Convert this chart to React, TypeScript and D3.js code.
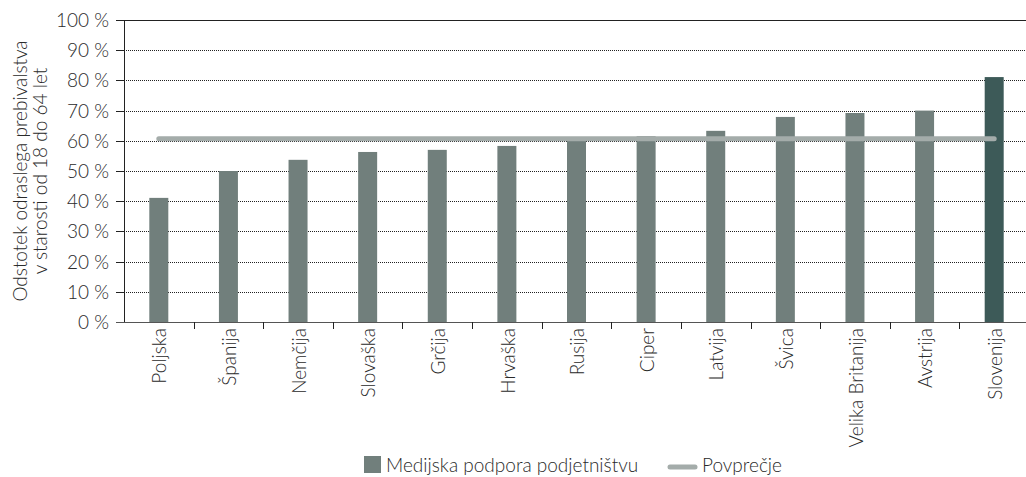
import React, { useEffect, useRef } from 'react';
import * as d3 from 'd3';

// Chart data
const countries = [
    'Poljska', 'Španija', 'Nemčija', 'Slovaška', 'Grčija', 'Hrvaška', 'Rusija',
    'Ciper', 'Latvija', 'Švica', 'Velika Britanija', 'Avstrija', 'Slovenija'
];
const supportValues = [41.1, 50.0, 53.7, 56.3, 57.0, 58.3, 60.4, 61.5, 63.3, 67.9, 69.2, 70.0, 81.1];
const averageValue = 60.7;
const yTicks = [0, 10, 20, 30, 40, 50, 60, 70, 80, 90, 100];
const seriesNames = ['Medijska podpora podjetništvu', 'Povprečje'];
const highlighted = 'Slovenija';

const FONT = 'Lato, "Open Sans", sans-serif';
const FS = '19px';
const TXT = '#2a2a2a';

const App: React.FC = () => {
    const chartRef = useRef<SVGSVGElement>(null);

    useEffect(() => {
        if (!chartRef.current) return;
        const svg = d3.select(chartRef.current);
        svg.selectAll('*').remove();

        const width = 1026;
        const height = 477;
        const margin = { top: 20, right: -3, bottom: 155, left: 124 };
        const innerWidth = width - margin.left - margin.right;
        const innerHeight = height - margin.top - margin.bottom;

        svg.attr('width', width).attr('height', height)
            .attr('viewBox', `0 0 ${width} ${height}`)
            .style('display', 'block')
            .style('font-family', FONT);

        const g = svg.append('g')
            .attr('transform', `translate(${margin.left}, ${margin.top})`);

        const xScale = d3.scaleBand()
            .domain(countries)
            .range([0, innerWidth])
            .paddingInner(0)
            .paddingOuter(0);

        const yScale = d3.scaleLinear()
            .domain([0, 100])
            .range([innerHeight, 0]);

        const barWidth = 19;

        // Gridlines
        g.selectAll('.grid')
            .data(yTicks.filter(t => t > 0))
            .enter()
            .append('line')
            .attr('x1', 0)
            .attr('x2', innerWidth + 10)
            .attr('y1', d => Math.round(yScale(d)) + 0.5)
            .attr('y2', d => Math.round(yScale(d)) + 0.5)
            .attr('stroke', '#222')
            .attr('stroke-width', 1)
            .attr('stroke-dasharray', d => d === 100 ? null : '1,1');

        // Bars
        g.selectAll('.bar')
            .data(countries)
            .enter()
            .append('rect')
            .attr('x', d => (xScale(d) as number) + xScale.bandwidth() / 2 - barWidth / 2)
            .attr('y', (d, i) => yScale(supportValues[i]))
            .attr('width', barWidth)
            .attr('height', (d, i) => innerHeight - yScale(supportValues[i]))
            .attr('fill', d => d === highlighted ? '#3d5a58' : '#717f7c');

        // Average line
        const first = (xScale(countries[0]) as number) + xScale.bandwidth() / 2;
        const last = (xScale(countries[countries.length - 1]) as number) + xScale.bandwidth() / 2;
        g.append('line')
            .attr('x1', first)
            .attr('x2', last)
            .attr('y1', yScale(averageValue))
            .attr('y2', yScale(averageValue))
            .attr('stroke', '#a4acaa')
            .attr('stroke-width', 5)
            .attr('stroke-linecap', 'round');

        // Y axis
        g.append('line')
            .attr('x1', 0.5).attr('x2', 0.5)
            .attr('y1', 0).attr('y2', innerHeight)
            .attr('stroke', '#222');
        yTicks.forEach(t => {
            const y = Math.round(yScale(t)) + 0.5;
            g.append('line')
                .attr('x1', -8).attr('x2', 0)
                .attr('y1', y).attr('y2', y)
                .attr('stroke', '#222');
            g.append('text')
                .attr('x', -15)
                .attr('y', y)
                .attr('dy', '0.35em')
                .attr('text-anchor', 'end')
                .attr('font-size', FS)
                .attr('font-weight', 300)
                .attr('fill', TXT)
                .text(`${t} %`);
        });

        // X axis
        g.append('line')
            .attr('x1', -8).attr('x2', innerWidth + 10)
            .attr('y1', innerHeight + 0.5).attr('y2', innerHeight + 0.5)
            .attr('stroke', '#555');
        countries.forEach((c, i) => {
            const x0 = Math.round(xScale(c) as number) + 0.5;
            if (i > 0) {
                g.append('line')
                    .attr('x1', x0).attr('x2', x0)
                    .attr('y1', innerHeight).attr('y2', innerHeight + 7)
                    .attr('stroke', '#222');
            }
            const cx = (xScale(c) as number) + xScale.bandwidth() / 2;
            g.append('text')
                .attr('transform', `translate(${cx + 1}, ${innerHeight + 6}) rotate(-90)`)
                .attr('dy', '0.35em')
                .attr('text-anchor', 'end')
                .attr('font-size', FS)
                .attr('font-weight', 300)
                .attr('fill', TXT)
                .text(c);
        });

        // Y axis title
        const title = svg.append('text')
            .attr('transform', `translate(20, ${margin.top + innerHeight / 2}) rotate(-90)`)
            .attr('text-anchor', 'middle')
            .attr('font-size', FS)
            .attr('font-weight', 300)
            .attr('fill', TXT);
        title.append('tspan').attr('x', 0).attr('dy', '0.35em').text('Odstotek odraslega prebivalstva');
        title.append('tspan').attr('x', 0).attr('dy', '1.05em').text('v starosti od 18 do 64 let');

        // Legend
        const legend = svg.append('g');
        legend.append('rect')
            .attr('x', 364).attr('y', 456)
            .attr('width', 17).attr('height', 17)
            .attr('fill', '#717f7c');
        legend.append('text')
            .attr('x', 386).attr('y', 465)
            .attr('dy', '0.35em')
            .attr('font-size', FS)
            .attr('font-weight', 300)
            .attr('fill', TXT)
            .text(seriesNames[0]);
        legend.append('line')
            .attr('x1', 670).attr('x2', 695)
            .attr('y1', 467).attr('y2', 467)
            .attr('stroke', '#a4acaa')
            .attr('stroke-width', 5)
            .attr('stroke-linecap', 'round');
        legend.append('text')
            .attr('x', 702).attr('y', 465)
            .attr('dy', '0.35em')
            .attr('font-size', FS)
            .attr('font-weight', 300)
            .attr('fill', TXT)
            .text(seriesNames[1]);
    }, []);

    return <svg ref={chartRef} style={{ position: 'absolute', left: 0, top: 0 }}></svg>;
};

export default App;
